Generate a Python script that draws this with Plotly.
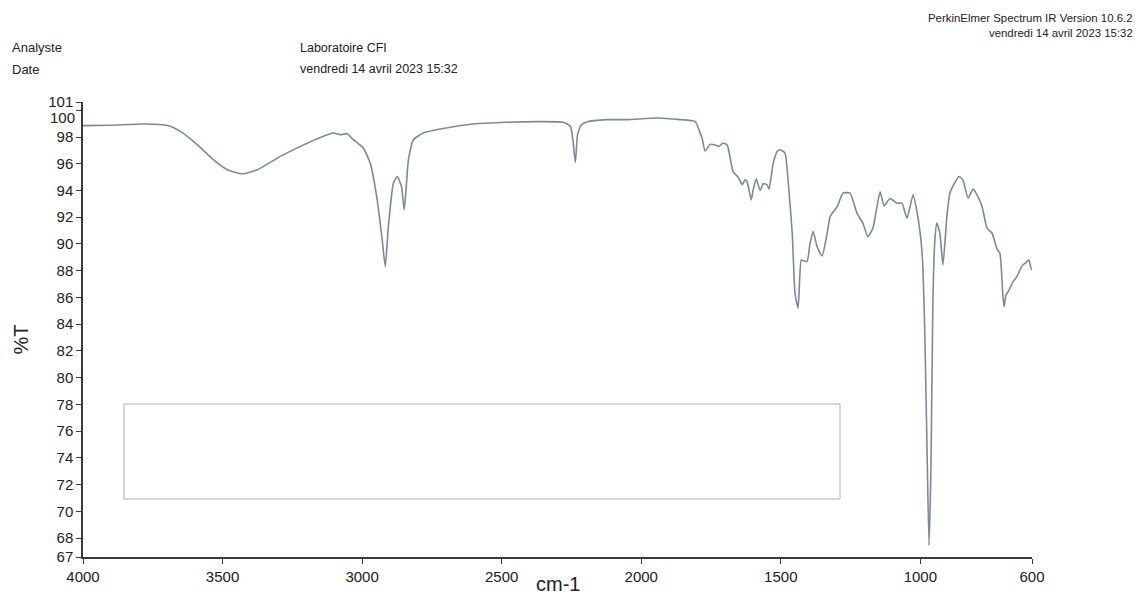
import plotly.graph_objects as go

# Infrared spectrum (transmittance vs. wavenumber)
wavenumber = [
    4000, 3900, 3783, 3694, 3651, 3590, 3533, 3483, 3429, 3375, 3293, 3221,
    3150, 3103, 3078, 3053, 3032, 2996, 2971, 2946, 2928, 2917, 2906, 2888,
    2874, 2859, 2849, 2834, 2816, 2781, 2720, 2602, 2480, 2362, 2279, 2254,
    2245, 2236, 2228, 2215, 2193, 2122, 2050, 1943, 1871, 1817, 1807, 1800,
    1789, 1782, 1771, 1753, 1735, 1721, 1707, 1692, 1671, 1653, 1638, 1628,
    1621, 1606, 1599, 1588, 1574, 1563, 1549, 1542, 1527, 1513, 1502, 1485,
    1474, 1459, 1449, 1438, 1427, 1420, 1406, 1395, 1384, 1370, 1352, 1334,
    1323, 1298, 1277, 1252, 1227, 1206, 1188, 1170, 1144, 1130, 1109, 1084,
    1066, 1048, 1026, 1012, 998, 991, 984, 976, 969, 962, 955, 948, 941,
    930, 919, 905, 894, 876, 862, 848, 829, 811, 797, 779, 761, 743, 725,
    715, 704, 700, 693, 682, 668, 654, 636, 618, 611, 604, 600,
]
transmittance = [
    98.85, 98.88, 98.97, 98.85, 98.42, 97.42, 96.30, 95.55, 95.25, 95.55, 96.55, 97.30,
    97.97, 98.30, 98.17, 98.25, 97.80, 97.18, 96.05, 93.30, 90.30, 88.30, 91.30, 94.55,
    95.05, 94.30, 92.55, 96.30, 97.80, 98.30, 98.60, 98.97, 99.10, 99.15, 99.10, 98.80,
    97.80, 96.10, 98.20, 98.90, 99.15, 99.30, 99.30, 99.42, 99.32, 99.22, 99.17, 98.92,
    98.30, 97.92, 96.95, 97.45, 97.40, 97.30, 97.55, 97.40, 95.42, 95.00, 94.43, 94.80,
    94.67, 93.30, 94.05, 94.88, 94.00, 94.50, 94.43, 94.10, 96.05, 96.92, 97.05, 96.80,
    94.80, 90.80, 86.30, 85.20, 88.80, 88.75, 88.68, 90.06, 90.93, 89.80, 89.10, 90.80,
    92.05, 92.80, 93.80, 93.80, 92.30, 91.56, 90.55, 91.18, 93.90, 92.85, 93.40, 93.05,
    93.05, 91.93, 93.68, 92.40, 90.30, 88.30, 83.30, 74.60, 67.45, 73.30, 85.80, 90.30, 91.56,
    90.80, 88.43, 92.05, 93.80, 94.60, 95.05, 94.80, 93.43, 94.10, 93.68, 92.80, 91.18, 90.80, 89.60,
    89.30, 86.06, 85.30, 86.20, 86.56, 87.18, 87.56, 88.36, 88.68, 88.80, 88.20, 88.06,
]

x_ticks = [4000, 3500, 3000, 2500, 2000, 1500, 1000, 600]
y_lo, y_hi = 66.58, 100.62
y_ticks = [y_lo] + list(range(68, 101, 2)) + [y_hi]
# the "100" label is nudged below its tick (drawn separately) so it clears "101"
y_labels = ["67"] + [str(v) for v in range(68, 100, 2)] + ["", "101"]

FONT = "Liberation Sans, Arial, sans-serif"
AXIS_COLOR = "#3a3a3a"
TEXT_COLOR = "#222"

fig = go.Figure()
fig.add_trace(go.Scatter(
    x=wavenumber, y=transmittance, mode="lines",
    line=dict(color="#7b8a9b", width=1.6, shape="spline", smoothing=0.5),
    hoverinfo="x+y", showlegend=False,
))

fig.update_layout(
    width=1135, height=596,
    margin=dict(l=83, r=103, t=102, b=39),
    paper_bgcolor="white", plot_bgcolor="white",
    font=dict(family=FONT, color=TEXT_COLOR),
    xaxis=dict(
        range=[4000, 600], tickvals=x_ticks, ticktext=[str(v) for v in x_ticks],
        showgrid=False, zeroline=False, showline=True, linecolor=AXIS_COLOR,
        linewidth=1.5, ticks="outside", ticklen=5, tickcolor=AXIS_COLOR,
        tickfont=dict(size=15, family=FONT, color=TEXT_COLOR),
    ),
    yaxis=dict(
        range=[y_lo, y_hi], tickvals=y_ticks, ticktext=y_labels,
        showgrid=False, zeroline=False, showline=True, linecolor=AXIS_COLOR,
        linewidth=1.5, ticks="outside", ticklen=5, tickcolor=AXIS_COLOR,
        tickfont=dict(size=15, family=FONT, color=TEXT_COLOR),
    ),
)

# "100" tick label, placed just under "101"
fig.add_annotation(text="100", xref="paper", yref="y", x=0, y=100,
                   xanchor="right", yanchor="middle", xshift=-6, yshift=-7,
                   showarrow=False,
                   font=dict(size=15, family=FONT, color=TEXT_COLOR))

# Empty comment box inside the plot area
fig.add_shape(type="rect", xref="paper", yref="paper",
              x0=0.0432, x1=0.7977, y0=0.1275, y1=0.3363,
              line=dict(color="#b0b0b0", width=1), fillcolor="rgba(0,0,0,0)")

# Axis titles
fig.add_annotation(text="cm-1", xref="paper", yref="paper", x=0.5, y=0,
                   yshift=-27, showarrow=False, yanchor="middle",
                   font=dict(size=20, family=FONT, color=TEXT_COLOR))
fig.add_annotation(text="%T", xref="paper", yref="paper", x=0, y=0.5,
                   xanchor="center", xshift=-63, yshift=-10, showarrow=False,
                   textangle=-90,
                   font=dict(size=20, family=FONT, color=TEXT_COLOR))

# Report header
def header(text, px, py, size=12.5, anchor="left"):
    fig.add_annotation(text=text, xref="paper", yref="paper",
                       x=(px - 83) / 949, y=(557 - py) / 455,
                       xanchor=anchor, yanchor="middle", showarrow=False,
                       font=dict(size=size, family=FONT, color=TEXT_COLOR))

header("Analyste", 10, 48, size=13)
header("Date", 10, 69, size=13)
header("Laboratoire CFI", 298, 48)
header("vendredi 14 avril 2023 15:32", 298, 69)
header("PerkinElmer Spectrum IR Version 10.6.2", 1135, 18, size=11.4, anchor="right")
header("vendredi 14 avril 2023 15:32", 1135, 33, size=11.4, anchor="right")

fig.write_html("out.html")
